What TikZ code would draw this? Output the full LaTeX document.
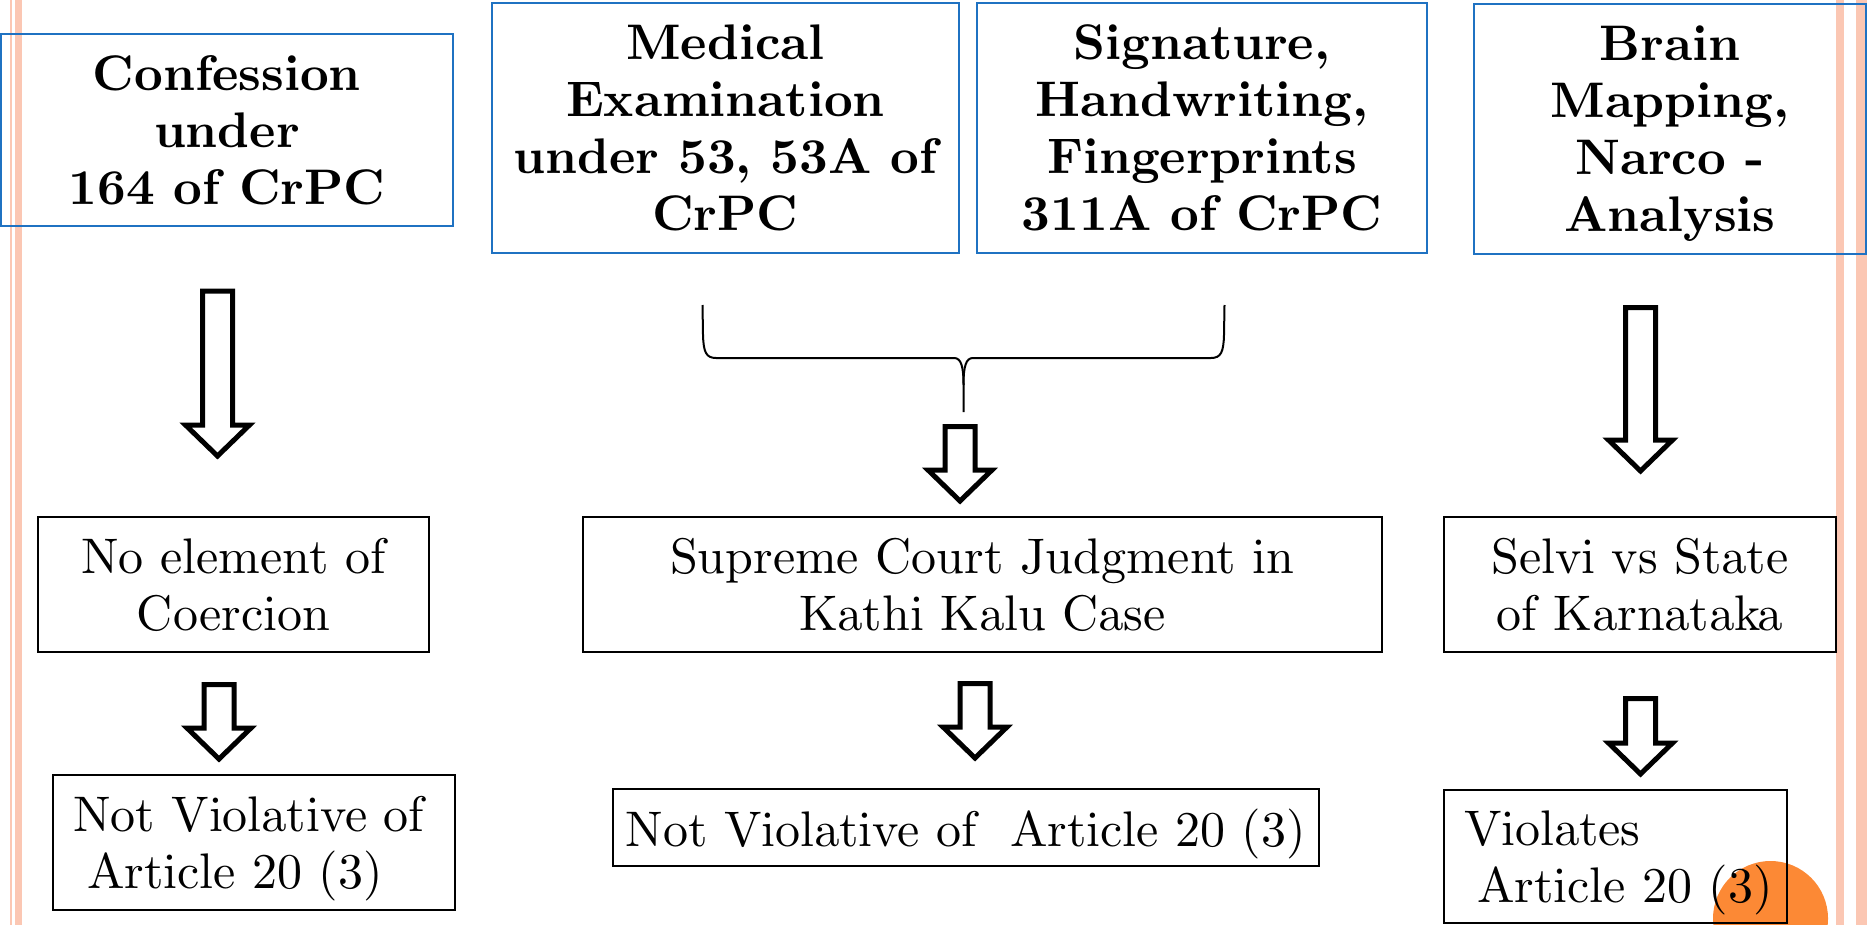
\documentclass[tikz,border=0pt]{standalone}
\font\rmbig=cmr10 at 50pt
\font\bfbig=cmbx10 at 50pt
\definecolor{boxblue}{HTML}{1F72C2}
\definecolor{borderpink}{HTML}{FBC7B3}
\definecolor{dotorange}{HTML}{FC8935}
\newcommand\blockarrow[3]{%
  \draw[barrow] (#1-15,#2) -- (#1+15,#2) -- (#1+15,#3) -- (#1+32,#3) -- (#1,#3+31)
    -- (#1-32,#3) -- (#1-15,#3) -- cycle;}
\begin{document}
\begin{tikzpicture}[x=1pt,y=-1pt,
  bluebox/.style={draw=boxblue, line width=2pt, inner sep=0pt, align=center,
    font={\bfbig\baselineskip=57pt\relax}, text depth=0pt},
  blackbox/.style={draw=black, line width=2pt, inner sep=0pt, align=center,
    font={\rmbig\baselineskip=57pt\relax}, text depth=0pt},
  leftbox/.style={blackbox, align=left, inner xsep=20pt, text depth=57pt},
  barrow/.style={draw=black, fill=white, line width=5pt, line join=miter},
  bracestyle/.style={draw=black, line width=2pt},
  border/.style={draw=borderpink}]
\useasboundingbox (0,0) rectangle (1870,925);
% side borders
\draw[border, line width=2pt] (11,0) -- (11,925);
\draw[border, line width=7pt] (18.5,0) -- (18.5,925);
\draw[border, line width=8pt] (1840,0) -- (1840,925);
\draw[border, line width=11pt] (1861.5,0) -- (1861.5,925);
% orange dot
\fill[dotorange] (1770.5,918.5) circle[radius=57.5pt];
% top row
\node[bluebox, minimum width=452pt, minimum height=192pt] (conf) at (227,130)
  {Confession\\under\\164 of CrPC};
\node[bluebox, minimum width=467pt, minimum height=250pt] (med) at (725.5,128)
  {Medical\\Examination\\under 53, 53A of\\CrPC};
\node[bluebox, minimum width=450pt, minimum height=250pt] (sig) at (1202,128)
  {Signature,\\Handwriting,\\Fingerprints\\311A of CrPC};
\node[bluebox, minimum width=392pt, minimum height=250pt] (brain) at (1670,129)
  {Brain\\Mapping,\\Narco -\\Analysis};
% middle row
\node[blackbox, minimum width=391pt, minimum height=135pt] (coer) at (233.5,584.5)
  {No element of\\Coercion};
\node[blackbox, minimum width=799pt, minimum height=135pt] (kathi) at (982.5,584.5)
  {Supreme Court Judgment in\\Kathi Kalu Case};
\node[blackbox, minimum width=392pt, minimum height=135pt] (selvi) at (1640,584.5)
  {Selvi vs State\\of Karnataka};
% bottom row
\node[leftbox, text width=362pt, minimum height=135pt] (nv1) at (254,842.5)
  {\mbox{Not Violative of}\\\mbox{\hspace*{14pt}Article 20 (3)}};
\node[blackbox, minimum width=706pt, minimum height=77pt] (nv2) at (966,827.5)
  {Not Violative of\ \ Article 20 (3)};
\node[leftbox, text width=303pt, minimum height=133pt] (viol) at (1615.5,856.5)
  {\mbox{Violates}\\\mbox{\hspace*{13pt}Article 20 (3)}};
% block arrows
\blockarrow{217.5}{291}{425}
\blockarrow{219}{684.5}{728}
\blockarrow{960}{426.5}{470}
\blockarrow{975}{683.5}{727}
\blockarrow{1640.5}{307.5}{440}
\blockarrow{1640.5}{698.5}{743}
% brace
\draw[bracestyle] (702.5,305) -- (703,335) .. controls (703.5,352) and (706,358) .. (716,358)
  -- (954,358) .. controls (961,358) and (963.5,366) .. (963.5,385) -- (963.5,412);
\draw[bracestyle] (1224.5,305) -- (1224,335) .. controls (1223.5,352) and (1221,358) .. (1211,358)
  -- (973,358) .. controls (966,358) and (963.5,366) .. (963.5,385);
\end{tikzpicture}
\end{document}
